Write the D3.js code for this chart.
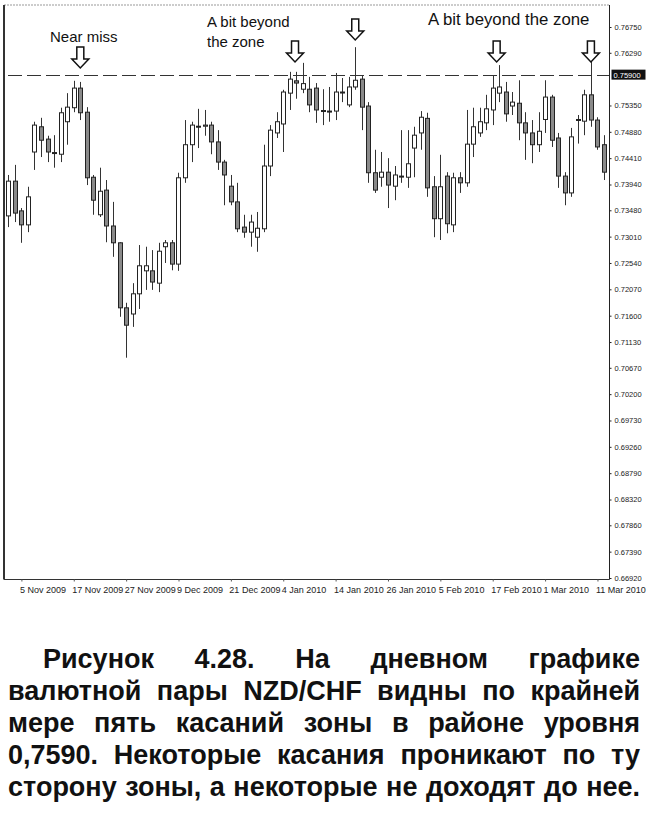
<!DOCTYPE html>
<html><head><meta charset="utf-8">
<script src="https://cdn.jsdelivr.net/npm/d3@7"></script>
<style>body{margin:0;background:#fff}</style>
</head><body><svg id="c" width="650" height="820"></svg>
<script>
// ---- data (NZD/CHF daily) ----
const open  = [0.7338,0.7400,0.7347,0.7322,0.7452,0.7497,0.7475,0.7451,0.7448,0.7506,0.7531,0.7566,0.7523,0.7407,0.7340,0.7384,0.7320,0.7290,0.7174,0.7163,0.7199,0.7240,0.7240,0.7218,0.7283,0.7290,0.7252,0.7406,0.7465,0.7498,0.7498,0.7500,0.7470,0.7434,0.7391,0.7363,0.7318,0.7309,0.7300,0.7315,0.7427,0.7486,0.7502,0.7557,0.7579,0.7564,0.7564,0.7566,0.7526,0.7525,0.7525,0.7559,0.7536,0.7568,0.7582,0.7534,0.7415,0.7407,0.7416,0.7391,0.7409,0.7407,0.7459,0.7486,0.7512,0.7390,0.7333,0.7409,0.7322,0.7406,0.7397,0.7466,0.7486,0.7504,0.7527,0.7557,0.7559,0.7534,0.7539,0.7504,0.7486,0.7465,0.7510,0.7550,0.7477,0.7409,0.7379,0.7510,0.7507,0.7554,0.7509,0.7465];
const high  = [0.7411,0.7429,0.7352,0.7390,0.7506,0.7513,0.7481,0.7482,0.7531,0.7557,0.7579,0.7577,0.7532,0.7411,0.7424,0.7402,0.7363,0.7291,0.7183,0.7218,0.7286,0.7283,0.7277,0.7290,0.7295,0.7295,0.7415,0.7509,0.7506,0.7529,0.7527,0.7506,0.7491,0.7438,0.7411,0.7397,0.7340,0.7340,0.7345,0.7465,0.7500,0.7523,0.7563,0.7595,0.7595,0.7611,0.7586,0.7575,0.7564,0.7568,0.7593,0.7584,0.7586,0.7639,0.7589,0.7541,0.7456,0.7452,0.7441,0.7427,0.7491,0.7491,0.7497,0.7525,0.7522,0.7409,0.7447,0.7416,0.7415,0.7416,0.7527,0.7531,0.7531,0.7554,0.7589,0.7607,0.7577,0.7559,0.7580,0.7523,0.7509,0.7523,0.7580,0.7554,0.7486,0.7416,0.7495,0.7518,0.7563,0.7629,0.7514,0.7482];
const low   = [0.7318,0.7327,0.7290,0.7309,0.7420,0.7443,0.7434,0.7424,0.7434,0.7465,0.7523,0.7509,0.7393,0.7340,0.7336,0.7291,0.7265,0.7158,0.7085,0.7140,0.7172,0.7206,0.7206,0.7202,0.7254,0.7241,0.7240,0.7397,0.7434,0.7459,0.7481,0.7448,0.7420,0.7357,0.7357,0.7309,0.7299,0.7283,0.7274,0.7309,0.7409,0.7477,0.7452,0.7527,0.7547,0.7557,0.7523,0.7504,0.7500,0.7506,0.7509,0.7541,0.7532,0.7563,0.7491,0.7397,0.7379,0.7390,0.7352,0.7366,0.7397,0.7388,0.7407,0.7456,0.7372,0.7300,0.7295,0.7307,0.7309,0.7379,0.7390,0.7443,0.7479,0.7491,0.7500,0.7541,0.7506,0.7518,0.7473,0.7438,0.7432,0.7452,0.7486,0.7461,0.7388,0.7357,0.7372,0.7467,0.7482,0.7497,0.7456,0.7402];
const close = [0.7400,0.7343,0.7322,0.7372,0.7500,0.7473,0.7452,0.7450,0.7522,0.7532,0.7566,0.7522,0.7406,0.7366,0.7382,0.7320,0.7290,0.7174,0.7143,0.7199,0.7249,0.7249,0.7220,0.7275,0.7290,0.7252,0.7406,0.7465,0.7500,0.7497,0.7500,0.7470,0.7434,0.7411,0.7363,0.7315,0.7309,0.7327,0.7316,0.7427,0.7491,0.7506,0.7559,0.7582,0.7575,0.7574,0.7536,0.7527,0.7525,0.7524,0.7559,0.7558,0.7568,0.7580,0.7532,0.7415,0.7384,0.7416,0.7393,0.7411,0.7408,0.7431,0.7482,0.7514,0.7388,0.7333,0.7390,0.7324,0.7406,0.7397,0.7466,0.7497,0.7506,0.7529,0.7566,0.7568,0.7520,0.7541,0.7504,0.7486,0.7465,0.7489,0.7550,0.7473,0.7409,0.7379,0.7479,0.7509,0.7554,0.7509,0.7461,0.7416];
const holidays = ["2009-12-25","2010-01-01"];
const yTicks = [0.76750,0.76290,0.75350,0.74880,0.74410,0.73940,0.73480,0.73010,0.72540,0.72070,0.71600,0.71130,0.70670,0.70200,0.69730,0.69260,0.68790,0.68320,0.67860,0.67390,0.66920];
const levelValue = 0.75900;
const xTickLabels = ["5 Nov 2009","17 Nov 2009","27 Nov 2009","9 Dec 2009","21 Dec 2009","4 Jan 2010","14 Jan 2010","26 Jan 2010","5 Feb 2010","17 Feb 2010","1 Mar 2010","11 Mar 2010"];
const noteTexts = [["Near miss"],["A bit beyond","the zone"],["A bit beyond the zone"]];
const arrowBars = [11, 43.8, 53, 74.6, 89];
const captionLines = [
  "Рисунок 4.28. На дневном графике",
  "валютной пары NZD/CHF видны по крайней",
  "мере пять касаний зоны в районе уровня",
  "0,7590. Некоторые касания проникают по ту",
  "сторону зоны, а некоторые не доходят до нее."
];

// ---- build ----
const n = open.length;
const dates = [];
{ let d = new Date(Date.UTC(2009,10,3));
  while (dates.length < n) {
    const wd = d.getUTCDay(), iso = d.toISOString().slice(0,10);
    if (wd !== 0 && wd !== 6 && !holidays.includes(iso)) dates.push(new Date(d));
    d.setUTCDate(d.getUTCDate()+1);
  } }
const fmt = d3.utcFormat("%-d %b %Y");
const bars = d3.range(n).map(i => ({i, date: dates[i], o: open[i], h: high[i], l: low[i], c: close[i]}));

const svg = d3.select("#c");
svg.append("rect").attr("width",650).attr("height",820).attr("fill","#fff");

const L = 4, R = 609.5, T = 5, B = 579.5;
const x = d3.scaleLinear().domain([0, n-1]).range([8.3, 604]);
const y = d3.scaleLinear().domain([0.6692, 0.7675]).range([578, 27]);

// frame
svg.append("line").attr("x1",L).attr("x2",R).attr("y1",T).attr("y2",T).attr("stroke","#999").attr("stroke-width",1).attr("stroke-dasharray","2,1");
svg.append("line").attr("x1",L).attr("x2",L).attr("y1",T).attr("y2",B).attr("stroke","#333").attr("stroke-width",2);
svg.append("line").attr("x1",L).attr("x2",R).attr("y1",B).attr("y2",B).attr("stroke","#333").attr("stroke-width",1);

// level line
svg.append("line").attr("x1",8).attr("x2",R).attr("y1",Math.round(y(levelValue))+0.5).attr("y2",Math.round(y(levelValue))+0.5)
  .attr("stroke","#333").attr("stroke-width",1.2).attr("stroke-dasharray","14,5");

// candles
const g = svg.append("g");
g.selectAll("line.w").data(bars).join("line").attr("class","w")
  .attr("x1", d => Math.round(x(d.i))+0.5).attr("x2", d => Math.round(x(d.i))+0.5)
  .attr("y1", d => y(d.h)).attr("y2", d => y(d.l)).attr("stroke","#333").attr("stroke-width",1);
g.selectAll("rect.b").data(bars).join("rect").attr("class","b")
  .attr("x", d => Math.round(x(d.i))-1.5).attr("width",4)
  .attr("y", d => Math.min(y(d.o), y(d.c)))
  .attr("height", d => Math.max(1, Math.abs(y(d.o)-y(d.c))))
  .attr("fill", d => d.c < d.o ? "#8a8a8a" : "#fff").attr("stroke","#222").attr("stroke-width",1);

// right axis
const ya = svg.append("g").attr("transform",`translate(${R},0)`)
  .call(d3.axisRight(y).tickValues(yTicks).tickFormat(d3.format(".5f")).tickSize(2).tickPadding(3));
ya.select(".domain").attr("stroke","#222").attr("d",`M0,${T}V${B}`);
ya.selectAll("text").attr("font-family","Liberation Sans, Arial, sans-serif").attr("font-size",7.5).attr("fill","#222");
ya.selectAll(".tick line").attr("stroke","#222");
// highlighted level label
const ly = y(levelValue);
svg.append("rect").attr("x",R+2).attr("y",ly-5).attr("width",34).attr("height",10).attr("fill","#111");
svg.append("text").attr("x",R+4).attr("y",ly+3).text(d3.format(".5f")(levelValue))
  .attr("font-family","Liberation Sans, Arial, sans-serif").attr("font-size",7.5).attr("fill","#fff");

// bottom labels
const xTickIdx = xTickLabels.map(lbl => bars.findIndex(b => fmt(b.date) === lbl));
const xa = svg.append("g").attr("transform",`translate(0,${B})`)
  .call(d3.axisBottom(x).tickValues(xTickIdx).tickFormat(i => fmt(dates[i])).tickSize(2).tickPadding(5));
xa.select(".domain").remove();
xa.selectAll(".tick line").attr("stroke","#555");
xa.selectAll("text").attr("text-anchor","start").attr("dx",-2)
  .attr("font-family","Liberation Sans, Arial, sans-serif").attr("font-size",9).attr("fill","#222");

// annotations
const noteStyle = s => s.attr("font-family","Liberation Sans, Arial, sans-serif").attr("fill","#111");
const notePos = [{x:50, y:[42], fs:15},{x:207, y:[27,47], fs:15},{x:428, y:[25], fs:16.8}];
noteTexts.forEach((lines,k) => lines.forEach((t,j) =>
  svg.append("text").attr("x",notePos[k].x).attr("y",notePos[k].y[j]).attr("font-size",notePos[k].fs).text(t).call(noteStyle)));
const arrowTips = [68, 62, 40, 62, 62];
arrowBars.forEach((b,k) => {
  const cx = x(b), ty = arrowTips[k];
  svg.append("path").attr("d",`M${cx-3.5},${ty-21}H${cx+3.5}V${ty-9}H${cx+8.5}L${cx},${ty}L${cx-8.5},${ty-9}H${cx-3.5}Z`)
    .attr("fill","#fff").attr("stroke","#111").attr("stroke-width",1.5).attr("stroke-linejoin","miter");
});

// caption (justified)
const capLeft = 8, capRight = 640;
captionLines.forEach((line, li) => {
  const words = line.split(" ");
  const base = 668 + li*32;
  const startX = li === 0 ? 43 : capLeft;
  let fs = 27;
  const ts = words.map(w => svg.append("text").attr("y",base).text(w)
    .attr("font-family","Liberation Sans, Arial, sans-serif").attr("font-weight","bold")
    .attr("font-size",fs).attr("fill","#111"));
  let widths = ts.map(t => t.node().getComputedTextLength());
  let tot = d3.sum(widths);
  const avail = capRight - startX;
  const minGap = 6;
  if (tot + minGap*(words.length-1) > avail) {
    const k = (avail - minGap*(words.length-1)) / tot;
    fs = fs * k;
    ts.forEach(t => t.attr("font-size", fs));
    widths = ts.map(t => t.node().getComputedTextLength());
    tot = d3.sum(widths);
  }
  const gap = (avail - tot) / (words.length - 1);
  let cx = startX;
  ts.forEach((t,k) => { t.attr("x",cx); cx += widths[k] + gap; });
});
</script></body></html>
